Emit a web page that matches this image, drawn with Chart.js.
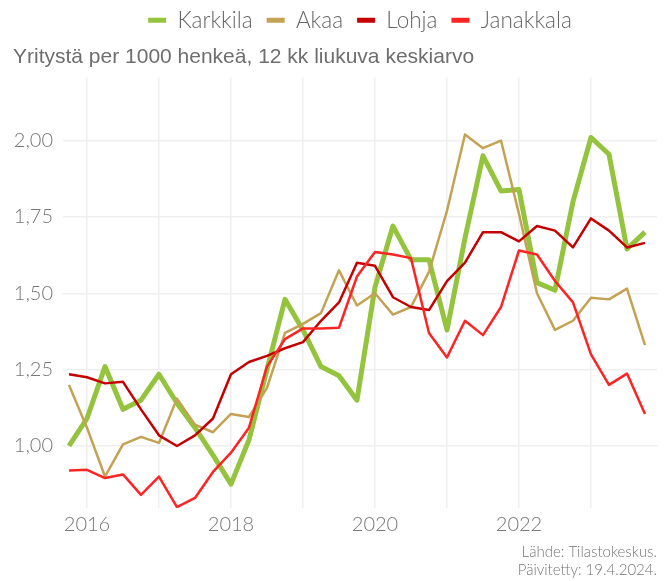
<!DOCTYPE html>
<html>
<head>
<meta charset="utf-8">
<script src="https://cdn.jsdelivr.net/npm/chart.js@4.4.1/dist/chart.umd.min.js"></script>
<style>
  html, body { margin: 0; padding: 0; background: #fff; }
  #wrap { width: 666px; height: 581px; }
</style>
</head>
<body>
<div id="wrap"><canvas id="chart"></canvas></div>
<script>
// Data: quarterly points, 12 month moving average
const quarters = [
    "2015Q4",
    "2016Q1", "2016Q2", "2016Q3", "2016Q4",
    "2017Q1", "2017Q2", "2017Q3", "2017Q4",
    "2018Q1", "2018Q2", "2018Q3", "2018Q4",
    "2019Q1", "2019Q2", "2019Q3", "2019Q4",
    "2020Q1", "2020Q2", "2020Q3", "2020Q4",
    "2021Q1", "2021Q2", "2021Q3", "2021Q4",
    "2022Q1", "2022Q2", "2022Q3", "2022Q4",
    "2023Q1", "2023Q2", "2023Q3", "2023Q4"
];
const karkkila = [1.00, 1.09, 1.26, 1.12, 1.15, 1.235, 1.14, 1.06, 0.97, 0.875, 1.02, 1.25, 1.48, 1.38, 1.26, 1.23, 1.15,
    1.52, 1.72, 1.61, 1.61, 1.38, 1.68, 1.95, 1.835, 1.84, 1.535, 1.51, 1.80, 2.01, 1.955, 1.645, 1.70];
const akaa = [1.20, 1.06, 0.90, 1.005, 1.03, 1.01, 1.155, 1.07, 1.045, 1.105, 1.095, 1.19, 1.37, 1.40, 1.435, 1.575, 1.46,
    1.50, 1.43, 1.455, 1.57, 1.77, 2.02, 1.975, 2.00, 1.76, 1.50, 1.38, 1.41, 1.485, 1.48, 1.515, 1.33];
const lohja = [1.235, 1.225, 1.205, 1.21, 1.12, 1.035, 1.00, 1.035, 1.09, 1.235, 1.275, 1.295, 1.32, 1.34, 1.41, 1.47, 1.60,
    1.59, 1.487, 1.455, 1.445, 1.54, 1.60, 1.70, 1.70, 1.67, 1.72, 1.705, 1.65, 1.745, 1.705, 1.65, 1.665];
const janakkala = [0.92, 0.922, 0.895, 0.907, 0.84, 0.90, 0.80, 0.83, 0.915, 0.978, 1.06, 1.26, 1.35, 1.385, 1.385, 1.387, 1.555,
    1.635, 1.627, 1.615, 1.37, 1.29, 1.41, 1.363, 1.455, 1.64, 1.627, 1.54, 1.47, 1.30, 1.20, 1.237, 1.105];

const yTicks = [1.00, 1.25, 1.50, 1.75, 2.00];
const xYears = [2016, 2017, 2018, 2019, 2020, 2021, 2022, 2023];

// "2016Q2" -> 2016.25
function quarterToYear(q) {
    return parseInt(q.slice(0, 4)) + (parseInt(q.slice(5)) - 1) / 4;
}

function toPoints(values) {
    return values.map((v, i) => ({x: quarterToYear(quarters[i]), y: v}));
}

function makeLine(label, values, color, width, order) {
    return {
        label: label,
        data: toPoints(values),
        borderColor: color,
        backgroundColor: color,
        borderWidth: width,
        pointRadius: 0,
        pointHoverRadius: 0,
        tension: 0,
        borderJoinStyle: 'round',
        order: order
    };
}

const GRID = '#efefef';
const LIGHT = {family: "Lato, 'Open Sans', sans-serif", weight: 300};

const ctx = document.getElementById('chart').getContext('2d');
const chart = new Chart(ctx, {
    type: 'line',
    data: {
        datasets: [
            makeLine('Karkkila', karkkila, '#94c33d', 5, 4),
            makeLine('Akaa', akaa, '#c3a254', 2.5, 3),
            makeLine('Lohja', lohja, '#c40000', 2.5, 2),
            makeLine('Janakkala', janakkala, '#ff2424', 2.5, 1)
        ]
    },
    options: {
        responsive: true,
        maintainAspectRatio: false,
        animation: false,
        layout: {padding: {left: 13, right: 9, top: -5, bottom: 0}},
        scales: {
            x: {
                type: 'linear',
                min: 2015.667,
                max: 2023.917,
                afterBuildTicks: (scale) => { scale.ticks = xYears.map(v => ({value: v})); },
                afterFit: (scale) => { scale.height = 35; },
                grid: {color: GRID, lineWidth: 1.5, drawTicks: false},
                border: {display: false},
                ticks: {
                    padding: 5,
                    color: '#777',
                    font: {...LIGHT, size: 20},
                    maxRotation: 0,
                    callback: (v) => v % 2 === 0 ? String(v) : ''
                }
            },
            y: {
                min: 0.797,
                max: 2.209,
                afterBuildTicks: (scale) => { scale.ticks = yTicks.map(v => ({value: v})); },
                afterFit: (scale) => { scale.width = 50; },
                grid: {color: GRID, lineWidth: 1.5, drawTicks: false},
                border: {display: false},
                ticks: {
                    padding: 10,
                    color: '#777',
                    font: {...LIGHT, size: 20},
                    callback: (v) => v.toFixed(2).replace('.', ',')
                }
            }
        },
        plugins: {
            legend: {
                position: 'top',
                align: 'center',
                fullSize: false,
                weight: 3000,
                labels: {
                    boxWidth: 18,
                    boxHeight: 5,
                    padding: 14,
                    color: '#666',
                    font: {...LIGHT, size: 22.5},
                    sort: (a, b) => a.datasetIndex - b.datasetIndex,
                    generateLabels: (chart) => chart.data.datasets.map((ds, i) => ({
                        text: ds.label,
                        fillStyle: ds.borderColor,
                        strokeStyle: ds.borderColor,
                        lineWidth: 0,
                        hidden: false,
                        fontColor: '#666',
                        datasetIndex: i
                    }))
                }
            },
            title: {
                display: true,
                text: 'Yritystä per 1000 henkeä, 12 kk liukuva keskiarvo',
                align: 'start',
                color: '#6e6e6e',
                font: {family: "'Liberation Sans', Arial, sans-serif", size: 21, weight: 'normal'},
                padding: {top: 3, bottom: 7}
            },
            subtitle: {
                display: true,
                position: 'bottom',
                align: 'end',
                text: ['Lähde: Tilastokeskus.', 'Päivitetty: 19.4.2024.'],
                color: '#777',
                font: {...LIGHT, size: 15, lineHeight: 1.2},
                padding: {top: 0, bottom: 2}
            },
            tooltip: {enabled: false}
        }
    }
});
</script>
</body>
</html>
